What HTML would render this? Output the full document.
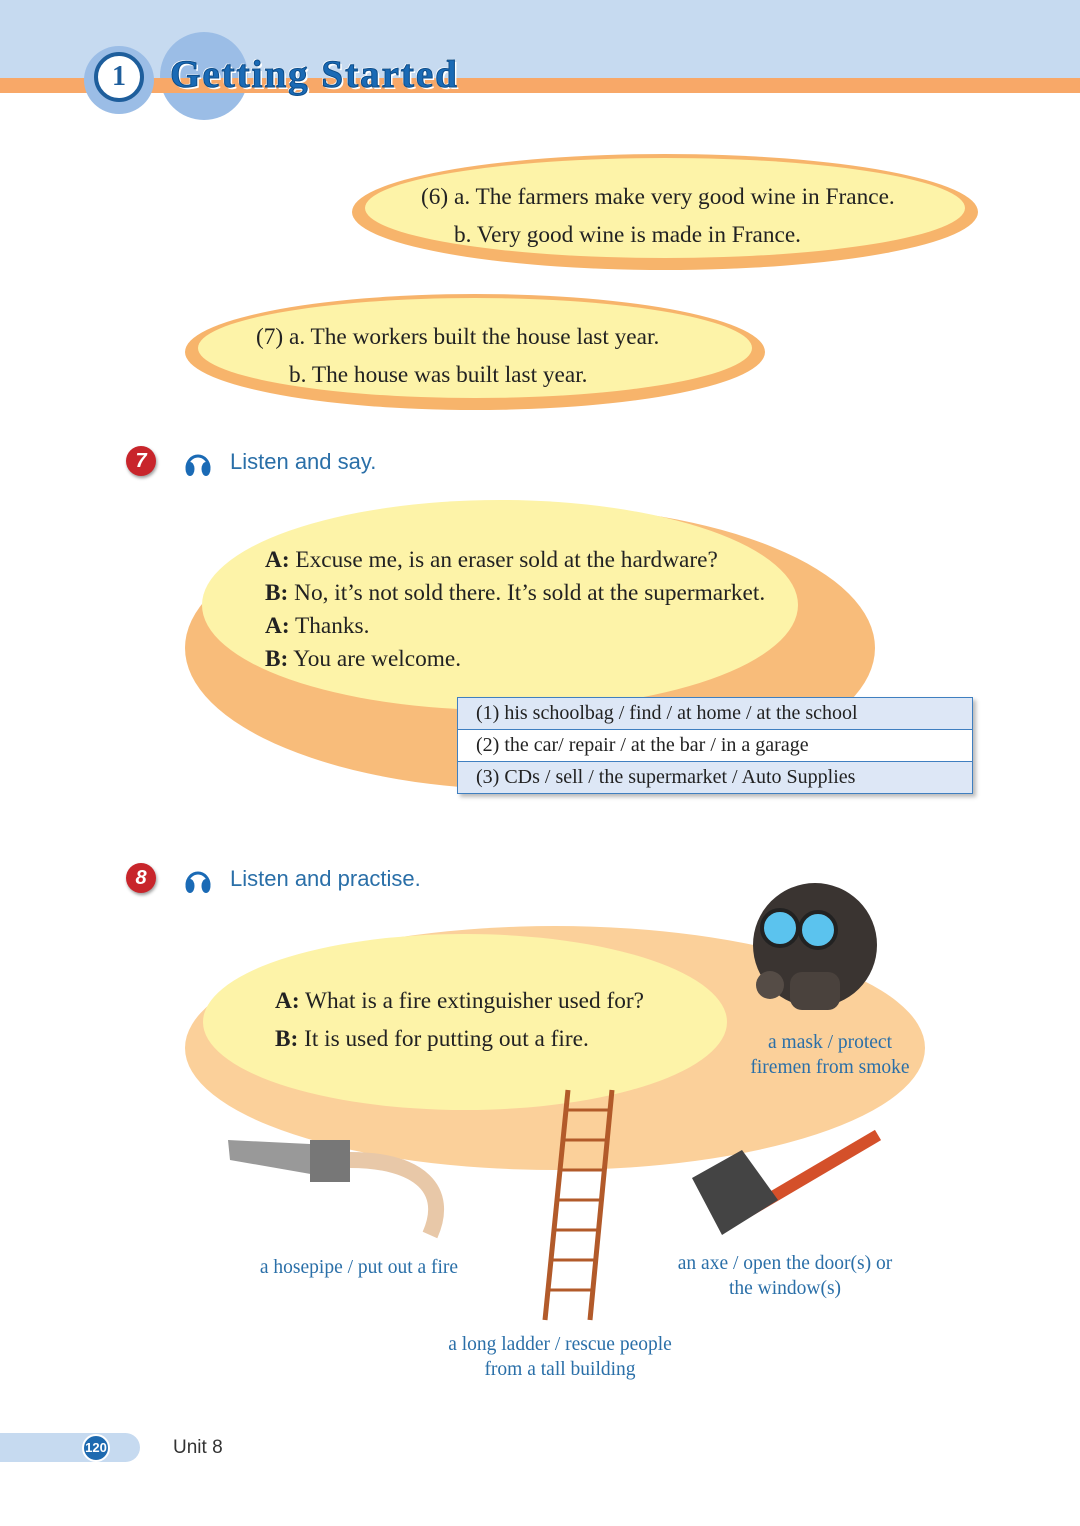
<!DOCTYPE html>
<html><head><meta charset="utf-8"><style>
body{margin:0;width:1080px;height:1526px;position:relative;background:#fff;overflow:hidden;font-family:"Liberation Serif",serif;}
.a{position:absolute}
.ser{font-family:"Liberation Serif",serif;color:#222;font-size:23.3px}
.lbl{font-family:"Liberation Serif",serif;color:#2a6fa8;font-size:19.5px;text-align:center;line-height:25px}
.sans{font-family:"Liberation Sans",sans-serif;color:#2a6fa8;font-size:22px}
.num{width:30px;height:30px;border-radius:50%;background:#c8252b;color:#fff;font:bold italic 20px "Liberation Sans",sans-serif;text-align:center;line-height:30px;box-shadow:1px 2px 3px #999}
td{border:1px solid #3f7fc0;padding:0 18px;height:31px;font-family:"Liberation Serif",serif;font-size:20px;color:#222}
</style></head><body>
<div class="a" style="left:0;top:0;width:1080px;height:78px;background:#c6daf0"></div>
<div class="a" style="left:160px;top:32px;width:88px;height:88px;border-radius:50%;background:#9bbde6"></div>
<div class="a" style="left:0;top:78px;width:1080px;height:15px;background:#f8a868"></div>
<div class="a" style="left:84px;top:46px;width:70px;height:68px;border-radius:50%;background:#9bbde6"></div>
<div class="a" style="left:94px;top:52px;width:50px;height:50px;border-radius:50%;background:#fff;border:4px solid #1e5e9c;box-sizing:border-box;color:#1e5e9c;font:bold 28px 'Liberation Serif',serif;text-align:center;line-height:42px">1</div>
<div class="a" style="left:170px;top:52px;font:bold 39px 'Liberation Serif',serif;letter-spacing:2px;color:#1a6ab5;-webkit-text-stroke:1px #0d4d8a;text-shadow:2px 2px 0 #fff,-1px -1px 0 #fff">Getting&nbsp;Started</div>

<svg class="a" style="left:0;top:0" width="1080" height="1526">
<ellipse cx="665" cy="212" rx="313" ry="58" fill="#f7b46b"/>
<ellipse cx="665" cy="208" rx="300" ry="50" fill="#fdf3a8"/>
<ellipse cx="475" cy="352" rx="290" ry="58" fill="#f7b46b"/>
<ellipse cx="475" cy="348" rx="277" ry="50" fill="#fdf3a8"/>
<ellipse cx="530" cy="648" rx="345" ry="142" fill="#f8bc7a"/>
<ellipse cx="500" cy="605" rx="298" ry="105" fill="#fdf3a8"/>
<ellipse cx="555" cy="1048" rx="370" ry="122" fill="#fbd09a"/>
<ellipse cx="465" cy="1022" rx="262" ry="88" fill="#fdf3a8"/>
<g fill="#1a6ab5" stroke="#1a6ab5">
<path d="M187 468 A11 12 0 0 1 209 468" fill="none" stroke-width="3"/>
<ellipse cx="190" cy="469" rx="4.5" ry="7" stroke="none"/><ellipse cx="206" cy="469" rx="4.5" ry="7" stroke="none"/>
<path d="M187 885 A11 12 0 0 1 209 885" fill="none" stroke-width="3"/>
<ellipse cx="190" cy="886" rx="4.5" ry="7" stroke="none"/><ellipse cx="206" cy="886" rx="4.5" ry="7" stroke="none"/>
</g>
<ellipse cx="815" cy="945" rx="62" ry="62" fill="#3a3431"/>
<circle cx="780" cy="928" r="18" fill="#5bc3ee" stroke="#222" stroke-width="4"/>
<circle cx="818" cy="930" r="18" fill="#5bc3ee" stroke="#222" stroke-width="4"/>
<rect x="790" y="972" width="50" height="38" rx="12" fill="#4a423d"/>
<circle cx="770" cy="985" r="14" fill="#554c46"/>
<path d="M350 1160 C420 1160 450 1190 430 1235" stroke="#e8c8a8" stroke-width="16" fill="none"/>
<path d="M228 1140 L330 1145 L345 1180 L230 1160Z" fill="#999"/>
<rect x="310" y="1140" width="40" height="42" fill="#777"/>
<line x1="568" y1="1090" x2="545" y2="1320" stroke="#b25a2a" stroke-width="5"/>
<line x1="612" y1="1090" x2="590" y2="1320" stroke="#b25a2a" stroke-width="5"/>
<g stroke="#b25a2a" stroke-width="3">
<line x1="566" y1="1110" x2="610" y2="1110"/><line x1="563" y1="1140" x2="607" y2="1140"/><line x1="560" y1="1170" x2="604" y2="1170"/><line x1="557" y1="1200" x2="601" y2="1200"/><line x1="554" y1="1230" x2="598" y2="1230"/><line x1="551" y1="1260" x2="595" y2="1260"/><line x1="548" y1="1290" x2="592" y2="1290"/></g>
<line x1="878" y1="1135" x2="725" y2="1225" stroke="#d4502a" stroke-width="12"/>
<path d="M692 1178 L742 1150 L778 1200 L722 1235Z" fill="#444"/>
</svg>

<div class="a ser" style="left:421px;top:184px">(6) a. The farmers make very good wine in France.</div>
<div class="a ser" style="left:454px;top:222px">b. Very good wine is made in France.</div>
<div class="a ser" style="left:256px;top:324px">(7) a. The workers built the house last year.</div>
<div class="a ser" style="left:289px;top:362px">b. The house was built last year.</div>

<div class="a num" style="left:126px;top:446px">7</div>
<div class="a sans" style="left:230px;top:449px">Listen and say.</div>

<div class="a ser" style="left:265px;top:544px;line-height:33px"><b>A:</b> Excuse me, is an eraser sold at the hardware?<br><b>B:</b> No, it’s not sold there. It’s sold at the supermarket.<br><b>A:</b> Thanks.<br><b>B:</b> You are welcome.</div>

<table class="a" style="left:457px;top:697px;width:516px;border-collapse:collapse;box-shadow:3px 3px 4px #bbb">
<tr style="background:#dde7f6"><td>(1) his schoolbag / find / at home / at the school</td></tr>
<tr style="background:#fff"><td>(2) the car/ repair / at the bar / in a garage</td></tr>
<tr style="background:#dde7f6"><td>(3) CDs / sell / the supermarket / Auto Supplies</td></tr>
</table>

<div class="a num" style="left:126px;top:863px">8</div>
<div class="a sans" style="left:230px;top:866px">Listen and practise.</div>

<div class="a ser" style="left:275px;top:982px;line-height:38px"><b>A:</b> What is a fire extinguisher used for?<br><b>B:</b> It is used for putting out a fire.</div>

<div class="a lbl" style="left:735px;top:1030px;width:190px">a mask / protect<br>firemen from smoke</div>
<div class="a lbl" style="left:244px;top:1255px;width:230px">a hosepipe / put out a fire</div>
<div class="a lbl" style="left:665px;top:1251px;width:240px">an axe / open the door(s) or<br>the window(s)</div>
<div class="a lbl" style="left:420px;top:1332px;width:280px">a long ladder / rescue people<br>from a tall building</div>

<div class="a" style="left:0;top:1433px;width:140px;height:29px;border-radius:0 15px 15px 0;background:#c6daf0"></div>
<div class="a" style="left:82px;top:1434px;width:28px;height:28px;border-radius:50%;background:#1e6ab0;border:2px solid #fff;box-sizing:border-box;color:#fff;font:bold 13px 'Liberation Sans',sans-serif;text-align:center;line-height:24px">120</div>
<div class="a" style="left:173px;top:1437px;font-family:'Liberation Sans',sans-serif;font-size:19px;color:#333">Unit 8</div>
</body></html>
